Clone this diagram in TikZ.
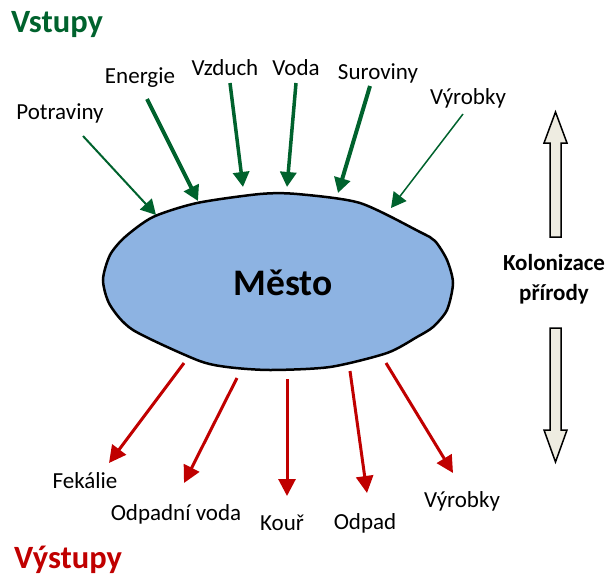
\documentclass[tikz,border=0pt]{standalone}
\usepackage{fontspec}
\setmainfont{Carlito}
\usetikzlibrary{arrows.meta}
\definecolor{vstupgreen}{RGB}{0,98,45}
\definecolor{vystupred}{RGB}{192,0,0}
\definecolor{mestoblue}{RGB}{141,179,226}
\definecolor{kolofill}{RGB}{238,236,225}
\tikzset{
  lbl/.style={font=\fontsize{23}{26}\selectfont, inner sep=0pt},
  heading/.style={font=\fontsize{32.5}{36}\selectfont\bfseries, inner sep=0pt},
  inarrow/.style={draw=vstupgreen, -{Triangle[length=15pt,width=16pt]}},
  outarrow/.style={draw=vystupred, line width=3pt, -{Triangle[length=17pt,width=17pt]}},
  bigarrow/.style={draw=black, line width=1.5pt, fill=kolofill, line join=miter}
}
\begin{document}
\begin{tikzpicture}[x=1pt,y=-1pt]
\useasboundingbox (0,0) rectangle (609,578);
% mesto
\draw[line width=2.5pt, fill=mestoblue] plot[smooth cycle, tension=0.45] coordinates {
  (103,280) (110,255) (125,237) (153,217) (197,203) (260,194) (297,194) (360,203)
  (420,232) (435,241) (447,260) (453,283) (447,310) (433,327) (417,337) (387,353)
  (330,367) (270,370) (227,367) (197,360) (133,330) (110,305)};
\node[font=\fontsize{37.5}{40}\selectfont\bfseries] (mesto) at (283,283) {Město};
% vstupy
\node[heading, text=vstupgreen] (vstupy) at (57,25) {Vstupy};
\foreach \n/\t/\lx/\ly/\sx/\sy/\ex/\ey/\w in {
    potraviny/Potraviny/60/113/83/136/156/215/2,
    energie/Energie/140/78/147/99/198/201/4,
    vzduch/Vzduch/225/68/230/83/243/187/3.5,
    voda/Voda/296/68/296/83/287/187/3.5,
    suroviny/Suroviny/378/73/370/86/338/193/4,
    vyrobkyin/Výrobky/468/98/463/114/391/208/1.5}{
  \node[lbl] (\n) at (\lx,\ly) {\t};
  \coordinate (\n-s) at (\sx,\sy);
  \coordinate (\n-e) at (\ex,\ey);
  \draw[inarrow, line width=\w pt] (\n-s) -- (\n-e);
}
% vystupy
\node[heading, text=vystupred] (vystupy) at (68,560) {Výstupy};
\foreach \n/\t/\lx/\ly/\sx/\sy/\ex/\ey in {
    fekalie/Fekálie/85/481/184/363/109/463,
    odpadnivoda/Odpadní voda/176/514/237/378/184/483,
    kour/Kouř/282/523/287/379/287/496,
    odpad/Odpad/365/523/350/371/367/493,
    vyrobkyout/Výrobky/462/501/386/363/453/473}{
  \node[lbl] (\n) at (\lx,\ly) {\t};
  \coordinate (\n-s) at (\sx,\sy);
  \coordinate (\n-e) at (\ex,\ey);
  \draw[outarrow] (\n-s) -- (\n-e);
}
% kolonizace prirody
\node[font=\fontsize{23}{30}\selectfont\bfseries, align=center] (kolonizace) at (554,279) {Kolonizace\\přírody};
\draw[bigarrow] (550,237) -- (550,143) -- (544,143) -- (555.5,112) -- (567,143) -- (561,143) -- (561,237) -- cycle;
\draw[bigarrow] (550,328) -- (550,430) -- (544,430) -- (555.5,462) -- (567,430) -- (561,430) -- (561,328) -- cycle;
\end{tikzpicture}
\end{document}
